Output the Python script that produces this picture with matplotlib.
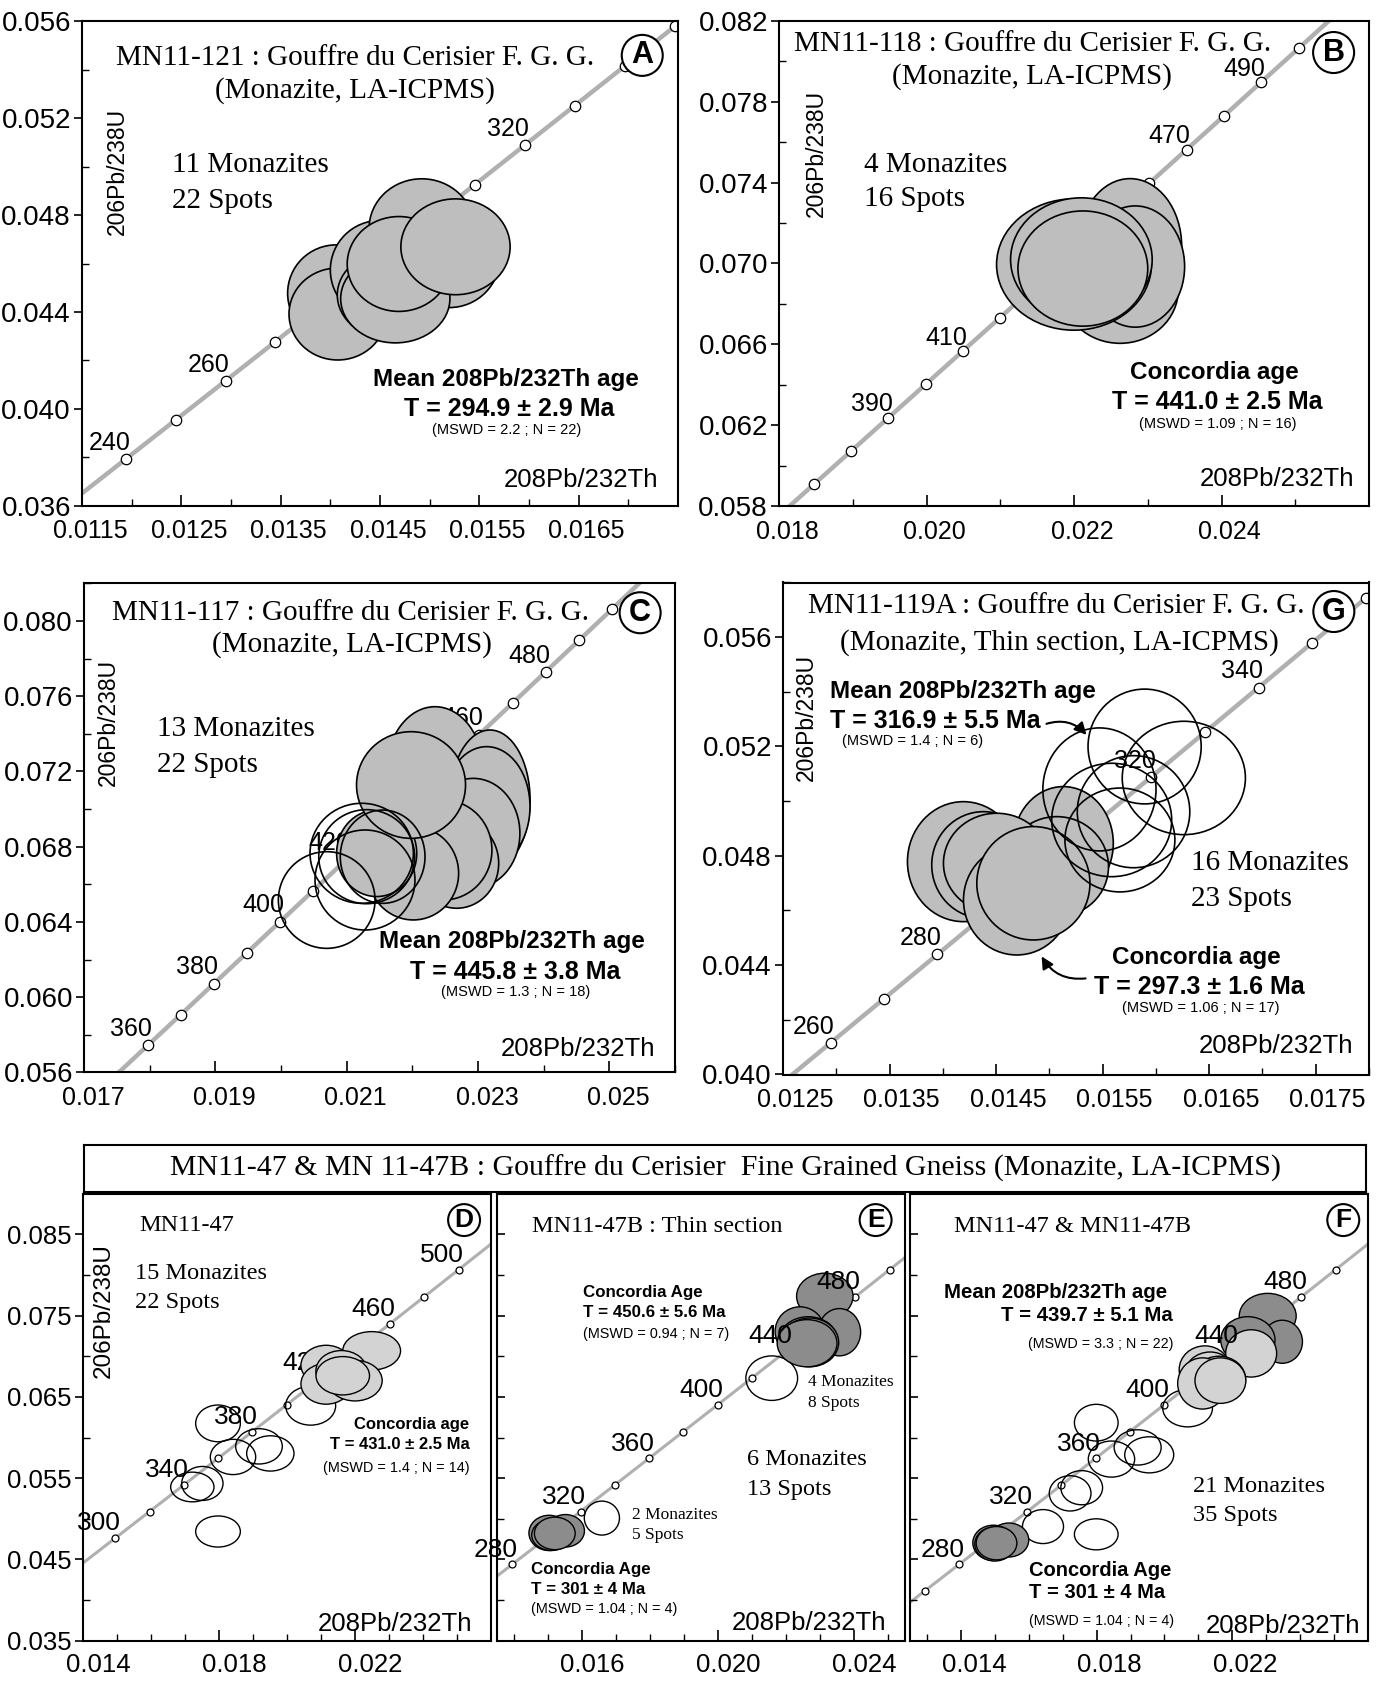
import numpy as np
import matplotlib
matplotlib.use('Agg')
import matplotlib.pyplot as plt
from matplotlib.patches import Ellipse
from matplotlib.transforms import ScaledTranslation

SERIF = ['Liberation Serif', 'DejaVu Serif']
SANS = ['Liberation Sans', 'DejaVu Sans']
plt.rcParams['font.family'] = SANS

# decay constants (1/yr) used for the 208Pb/232Th - 206Pb/238U concordia
L232 = 4.9475e-11
L238 = 1.55125e-10

# ---------------- Panel A : MN11-121 ----------------
A_xlim = (0.0115, 0.0175)
A_ylim = (0.036, 0.056)
A_xticks = [0.0115, 0.0125, 0.0135, 0.0145, 0.0155, 0.0165]
A_xticklabels = ['0.0115', '0.0125', '0.0135', '0.0145', '0.0155', '0.0165']
A_xminor = [0.0120, 0.0130, 0.0140, 0.0150, 0.0160, 0.0170]
A_yticks = [0.036, 0.040, 0.044, 0.048, 0.052, 0.056]
A_yticklabels = ['0.036', '0.040', '0.044', '0.048', '0.052', '0.056']
A_yminor = [0.038, 0.042, 0.046, 0.050, 0.054]
A_ages = [240, 250, 260, 270, 280, 290, 300, 310, 320, 330, 340, 350]
A_age_labels = [240, 260, 320]
A_cx = [0.01406, 0.014074, 0.01450, 0.01492, 0.01520, 0.01463, 0.014654, 0.01469, 0.01526]
A_cy = [0.04477, 0.043913, 0.04573, 0.04745, 0.04628, 0.04470, 0.04455, 0.04598, 0.04669]
A_sx = [0.00049, 0.000490, 0.00050, 0.00053, 0.00051, 0.00056, 0.00055, 0.00052, 0.00055]
A_sy = [0.00200, 0.00190, 0.00205, 0.00205, 0.00210, 0.00185, 0.00183, 0.00196, 0.00198]
A_kind = ['g'] * 9

# ---------------- Panel B : MN11-118 ----------------
B_xlim = (0.018, 0.026)
B_ylim = (0.058, 0.082)
B_xticks = [0.018, 0.020, 0.022, 0.024]
B_xticklabels = ['0.018', '0.020', '0.022', '0.024']
B_xminor = [0.019, 0.021, 0.023, 0.025]
B_yticks = [0.058, 0.062, 0.066, 0.070, 0.074, 0.078, 0.082]
B_yticklabels = ['0.058', '0.062', '0.066', '0.070', '0.074', '0.078', '0.082']
B_yminor = [0.060, 0.064, 0.068, 0.072, 0.076, 0.080]
B_ages = [370, 380, 390, 400, 410, 420, 430, 440, 450, 460, 470, 480, 490, 500]
B_age_labels = [390, 410, 470, 490]
B_cx = [0.02276, 0.022624, 0.02283, 0.02200, 0.02210, 0.022120]
B_cy = [0.07085, 0.068700, 0.06985, 0.06995, 0.07020, 0.069750]
B_sx = [0.000700, 0.000790, 0.00067, 0.001050, 0.000960, 0.000880]
B_sy = [0.00335, 0.002650, 0.00300, 0.00325, 0.003050, 0.002850]
B_kind = ['g'] * 6

# ---------------- Panel C : MN11-117 ----------------
C_xlim = (0.017, 0.026)
C_ylim = (0.056, 0.082)
C_xticks = [0.017, 0.019, 0.021, 0.023, 0.025]
C_xticklabels = ['0.017', '0.019', '0.021', '0.023', '0.025']
C_xminor = [0.018, 0.020, 0.022, 0.024, 0.026]
C_yticks = [0.056, 0.060, 0.064, 0.068, 0.072, 0.076, 0.080]
C_yticklabels = ['0.056', '0.060', '0.064', '0.068', '0.072', '0.076', '0.080']
C_yminor = [0.058, 0.062, 0.066, 0.070, 0.074, 0.078, 0.082]
C_ages = [360, 370, 380, 390, 400, 410, 420, 430, 440, 450, 460, 470, 480, 490, 500]
C_age_labels = [360, 380, 400, 420, 460, 480]
C_cx = [0.022345, 0.023183, 0.023132, 0.022928, 0.022675, 0.022472, 0.022015, 0.021457, 0.021980,
        0.020696, 0.021279, 0.021229, 0.021305, 0.021548]
C_cy = [0.071988, 0.070483, 0.070130, 0.068713, 0.067118, 0.067825, 0.066586, 0.067650, 0.071280,
        0.065166, 0.066230, 0.067650, 0.067470, 0.067469]
C_sx = [0.000740, 0.000610, 0.000660, 0.000710, 0.000640, 0.000740, 0.000690, 0.000610, 0.000830,
        0.000736, 0.000761, 0.000787, 0.000730, 0.000645]
C_sy = [0.003456, 0.003722, 0.003190, 0.002920, 0.002390, 0.002659, 0.002480, 0.002300, 0.002835,
        0.002570, 0.002659, 0.002659, 0.002500, 0.002480]
C_kind = ['g'] * 9 + ['o'] * 5

# ---------------- Panel G : MN11-119A ----------------
G_xlim = (0.0125, 0.0180)
G_ylim = (0.040, 0.058)
G_xticks = [0.0125, 0.0135, 0.0145, 0.0155, 0.0165, 0.0175]
G_xticklabels = ['0.0125', '0.0135', '0.0145', '0.0155', '0.0165', '0.0175']
G_xminor = [0.0130, 0.0140, 0.0150, 0.0160, 0.0170, 0.0180]
G_yticks = [0.040, 0.044, 0.048, 0.052, 0.056]
G_yticklabels = ['0.040', '0.044', '0.048', '0.052', '0.056']
G_yminor = [0.042, 0.046, 0.050, 0.054, 0.058]
G_ages = [260, 270, 280, 290, 300, 310, 320, 330, 340, 350, 360]
G_age_labels = [260, 280, 320, 340]
G_cx = [0.015131, 0.015070, 0.014193, 0.014381, 0.014506, 0.014694, 0.014850,
        0.015470, 0.015894, 0.016262, 0.015585, 0.015790, 0.015662]
G_cy = [0.048459, 0.047604, 0.047787, 0.047666, 0.047728, 0.046385, 0.046996,
        0.050430, 0.052000, 0.050849, 0.049312, 0.049615, 0.048580]
G_sx = [0.000469, 0.000485, 0.000525, 0.000485, 0.000500, 0.000500, 0.000531,
        0.000531, 0.000531, 0.000578, 0.000563, 0.000528, 0.000516]
G_sy = [0.002074, 0.001830, 0.002195, 0.001950, 0.001830, 0.002012, 0.002074,
        0.002250, 0.002100, 0.002074, 0.002074, 0.002050, 0.001900]
G_kind = ['g'] * 7 + ['o'] * 6

# ---------------- Panels D, E, F : MN11-47 / MN11-47B ----------------
DEF_ylim = (0.035, 0.090)
DEF_yticks = [0.035, 0.045, 0.055, 0.065, 0.075, 0.085]
DEF_yticklabels = ['0.035', '0.045', '0.055', '0.065', '0.075', '0.085']
DEF_yminor = [0.040, 0.050, 0.060, 0.070, 0.080]

D_xlim = (0.014, 0.026)
D_xticks = [0.014, 0.018, 0.022]
D_xticklabels = ['0.014', '0.018', '0.022']
D_xminor = [0.015, 0.016, 0.017, 0.019, 0.020, 0.021, 0.023, 0.024, 0.025]
D_ages = [300, 320, 340, 360, 380, 400, 420, 440, 460, 480, 500]
D_age_labels = [300, 340, 380, 420, 460, 500]
D_cx = [0.017971, 0.017216, 0.017510, 0.017971, 0.018412, 0.019176, 0.019510, 0.020696,
        0.022490, 0.021150, 0.021150, 0.021600, 0.022000, 0.021640]
D_cy = [0.048435, 0.053913, 0.054348, 0.061739, 0.057609, 0.058913, 0.058043, 0.063913,
        0.070670, 0.068900, 0.066600, 0.068200, 0.067000, 0.067600]
D_sx = [0.000657, 0.000637, 0.000608, 0.000657, 0.000667, 0.000686, 0.000696, 0.000735,
        0.000850, 0.000740, 0.000740, 0.000750, 0.000800, 0.000787]
D_sy = [0.001913, 0.001826, 0.002090, 0.002260, 0.002170, 0.002170, 0.002170, 0.002390,
        0.002360, 0.002450, 0.002500, 0.002500, 0.002500, 0.002360]
D_kind = ['o'] * 8 + ['l'] * 6

E_xlim = (0.0135, 0.0255)
E_xticks = [0.016, 0.020, 0.024]
E_xticklabels = ['0.016', '0.020', '0.024']
E_xminor = [0.014, 0.015, 0.017, 0.018, 0.019, 0.021, 0.022, 0.023, 0.025]
E_ages = [280, 300, 320, 340, 360, 380, 400, 420, 440, 460, 480, 500]
E_age_labels = [280, 320, 360, 400, 440, 480]
E_cx = [0.016585, 0.021580, 0.015512, 0.015034, 0.015100, 0.015200,
        0.023141, 0.023571, 0.022410, 0.022654, 0.022700, 0.022620]
E_cy = [0.050087, 0.067304, 0.048522, 0.048261, 0.048000, 0.048200,
        0.077391, 0.072957, 0.073043, 0.071826, 0.071700, 0.071600]
E_sx = [0.000517, 0.000761, 0.000560, 0.000595, 0.000580, 0.000600,
        0.000830, 0.000624, 0.000730, 0.000878, 0.000850, 0.000880]
E_sy = [0.002090, 0.002740, 0.002000, 0.002170, 0.001900, 0.002000,
        0.002830, 0.002910, 0.003040, 0.003040, 0.003000, 0.002900]
E_kind = ['o'] * 2 + ['d'] * 10

F_xlim = (0.0125, 0.026)
F_xticks = [0.014, 0.018, 0.022]
F_xticklabels = ['0.014', '0.018', '0.022']
F_xminor = [0.013, 0.015, 0.016, 0.017, 0.019, 0.020, 0.021, 0.023, 0.024, 0.025]
F_ages = [260, 280, 300, 320, 340, 360, 380, 400, 420, 440, 460, 480, 500]
F_age_labels = [280, 320, 360, 400, 440, 480]
F_cx = [0.016420, 0.017990, 0.017220, 0.017561, 0.017990, 0.018439, 0.019210, 0.019551, 0.020683,
        0.015415, 0.014956, 0.015000, 0.015050,
        0.023044, 0.023473, 0.022459,
        0.022556, 0.021190, 0.021346, 0.021610, 0.021122, 0.021650]
F_cy = [0.049043, 0.048087, 0.053130, 0.053826, 0.061826, 0.057348, 0.058783, 0.057870, 0.063609,
        0.047391, 0.047043, 0.046900, 0.047000,
        0.074957, 0.071783, 0.072000,
        0.070348, 0.068348, 0.067652, 0.067174, 0.066652, 0.067000]
F_sx = [0.000605, 0.000644, 0.000615, 0.000615, 0.000644, 0.000683, 0.000693, 0.000722, 0.000732,
        0.000585, 0.000605, 0.000590, 0.000600,
        0.000839, 0.000595, 0.000800,
        0.000751, 0.000756, 0.000756, 0.000780, 0.000732, 0.000750]
F_sy = [0.002090, 0.001910, 0.002170, 0.002100, 0.002260, 0.002220, 0.002170, 0.002220, 0.002300,
        0.002090, 0.002170, 0.002100, 0.002050,
        0.002780, 0.002650, 0.002870,
        0.002910, 0.002930, 0.002870, 0.002830, 0.003150, 0.002800]
F_kind = ['o'] * 9 + ['d'] * 4 + ['d'] * 3 + ['l'] * 6

FILL = {'g': '#bebebe', 'l': '#d3d3d3', 'd': '#8c8c8c', 'o': 'none'}

fig = plt.figure(figsize=(13.81, 16.86), dpi=100)
W, H = 1381.0, 1686.0


def rect(l, r, t, b):
    return [l / W, (H - b) / H, (r - l) / W, (b - t) / H]


def make_ax(rc, xlim, ylim, xt, xtl, xm, yt, ytl, ym, ylab=True, ysize=20, xsize=18,
            xshift=0, xpad=10):
    ax = fig.add_axes(rc)
    ax.set_xlim(xlim)
    ax.set_ylim(ylim)
    ax.set_xticks(xt)
    ax.set_xticklabels(xtl)
    ax.set_xticks(xm, minor=True)
    ax.set_yticks(yt)
    ax.set_yticklabels(ytl if ylab else [])
    ax.set_yticks(ym, minor=True)
    ax.tick_params(axis='x', which='both', direction='in')
    ax.tick_params(axis='x', which='major', length=8, width=1.2, pad=xpad, labelsize=xsize)
    ax.tick_params(axis='x', which='minor', length=5, width=1.0)
    ax.tick_params(axis='y', which='major', direction='out' if ylab else 'in', length=6,
                   width=1.2, pad=2, labelsize=ysize)
    ax.tick_params(axis='y', which='minor', direction='in', length=5, width=1.0)
    for s in ax.spines.values():
        s.set_linewidth(1.5)
    if xshift:
        off = ScaledTranslation(xshift / 100.0, 0, fig.dpi_scale_trans)
        for tk in ax.xaxis.get_major_ticks():
            tk.label1.set_transform(tk.label1.get_transform() + off)
    return ax


def concordia(ax, ages, labels, lw, ms, fs, lab_z, off=(3, 3)):
    t = np.linspace(0, 800e6, 3000)
    ax.plot(np.expm1(L232 * t), np.expm1(L238 * t), color='#b0b0b0', lw=lw, zorder=1,
            solid_capstyle='butt')
    a = np.array(ages) * 1e6
    ax.plot(np.expm1(L232 * a), np.expm1(L238 * a), 'o', mfc='white', mec='black', ms=ms,
            mew=0.9, zorder=1.5)
    for lab in labels:
        ax.annotate(str(lab), (np.expm1(L232 * lab * 1e6), np.expm1(L238 * lab * 1e6)),
                    xytext=off, textcoords='offset points', ha='right', va='bottom',
                    fontsize=fs, family=SANS, zorder=lab_z)


def ellipses(ax, cx, cy, sx, sy, kinds, lw=1.2):
    for i, (x, y, a, b, k) in enumerate(zip(cx, cy, sx, sy, kinds)):
        ax.add_patch(Ellipse((x, y), 2 * a, 2 * b, facecolor=FILL[k], edgecolor='black',
                             lw=lw, zorder=3 + 0.01 * i))


def txt(ax, x, y, s, fs, fam=SANS, ha='center', weight='normal', rot=0, z=10):
    ax.text(x, y, s, transform=ax.transAxes, fontsize=fs, family=fam, ha=ha, va='center',
            fontweight=weight, rotation=rot, zorder=z)


def letter(ax, x, y, s, fs=22, pad=0.18):
    ax.text(x, y, s, transform=ax.transAxes, fontsize=fs, family=SANS, fontweight='bold',
            ha='center', va='center', zorder=12,
            bbox=dict(boxstyle='circle,pad=%g' % pad, fc='white', ec='black', lw=1.5))


# ---------- A ----------
axA = make_ax(rect(82, 678, 21.5, 505.5), A_xlim, A_ylim, A_xticks, A_xticklabels, A_xminor,
              A_yticks, A_yticklabels, A_yminor, xshift=8)
concordia(axA, A_ages, A_age_labels, 3.2, 7.5, 18, 2)
ellipses(axA, A_cx, A_cy, A_sx, A_sy, A_kind)
txt(axA, 0.458, 0.925, 'MN11-121 : Gouffre du Cerisier F. G. G.', 21, SERIF)
txt(axA, 0.458, 0.857, '(Monazite, LA-ICPMS)', 21, SERIF)
letter(axA, 0.94, 0.93, 'A')
txt(axA, 0.151, 0.704, '11 Monazites', 21, SERIF, ha='left')
txt(axA, 0.151, 0.630, '22 Spots', 21, SERIF, ha='left')
txt(axA, 0.060, 0.690, '206Pb/238U', 16.5, rot=90)
txt(axA, 0.712, 0.261, 'Mean 208Pb/232Th age', 17.5, weight='bold')
txt(axA, 0.716, 0.199, 'T = 294.9 ± 2.9 Ma', 18, weight='bold')
txt(axA, 0.712, 0.157, '(MSWD = 2.2 ; N = 22)', 10.5)
txt(axA, 0.837, 0.052, '208Pb/232Th', 18.5)

# ---------- B ----------
axB = make_ax(rect(779, 1369, 21, 506), B_xlim, B_ylim, B_xticks, B_xticklabels, B_xminor,
              B_yticks, B_yticklabels, B_yminor, xshift=8)
concordia(axB, B_ages, B_age_labels, 3.2, 7.5, 18, 2, off=(3, 1))
ellipses(axB, B_cx, B_cy, B_sx, B_sy, B_kind)
txt(axB, 0.429, 0.952, 'MN11-118 : Gouffre du Cerisier F. G. G.', 21, SERIF)
txt(axB, 0.429, 0.886, '(Monazite, LA-ICPMS)', 21, SERIF)
letter(axB, 0.94, 0.935, 'B')
txt(axB, 0.144, 0.703, '4 Monazites', 21, SERIF, ha='left')
txt(axB, 0.144, 0.633, '16 Spots', 21, SERIF, ha='left')
txt(axB, 0.064, 0.726, '206Pb/238U', 16.5, rot=90)
txt(axB, 0.7375, 0.276, 'Concordia age', 17.5, weight='bold')
txt(axB, 0.743, 0.2145, 'T = 441.0 ± 2.5 Ma', 18, weight='bold')
txt(axB, 0.743, 0.170, '(MSWD = 1.09 ; N = 16)', 10.5)
txt(axB, 0.844, 0.055, '208Pb/232Th', 18.5)

# ---------- C ----------
axC = make_ax(rect(84, 675, 583.4, 1072.4), C_xlim, C_ylim, C_xticks, C_xticklabels, C_xminor,
              C_yticks, C_yticklabels, C_yminor, xshift=9)
concordia(axC, C_ages, C_age_labels, 3.2, 7.5, 18, 2)
ellipses(axC, C_cx, C_cy, C_sx, C_sy, C_kind)
txt(axC, 0.451, 0.940, 'MN11-117 : Gouffre du Cerisier F. G. G.', 21, SERIF)
txt(axC, 0.453, 0.874, '(Monazite, LA-ICPMS)', 21, SERIF)
letter(axC, 0.941, 0.94, 'C')
txt(axC, 0.123, 0.702, '13 Monazites', 21, SERIF, ha='left')
txt(axC, 0.123, 0.628, '22 Spots', 21, SERIF, ha='left')
txt(axC, 0.042, 0.716, '206Pb/238U', 16.5, rot=90)
txt(axC, 0.724, 0.268, 'Mean 208Pb/232Th age', 17.5, weight='bold')
txt(axC, 0.730, 0.206, 'T = 445.8 ± 3.8 Ma', 18, weight='bold')
txt(axC, 0.730, 0.164, '(MSWD = 1.3 ; N = 18)', 10.5)
txt(axC, 0.836, 0.047, '208Pb/232Th', 18.5)

# ---------- G ----------
axG = make_ax(rect(783, 1369, 582.5, 1074.5), G_xlim, G_ylim, G_xticks, G_xticklabels, G_xminor,
              G_yticks, G_yticklabels, G_yminor, xshift=12)
concordia(axG, G_ages, G_age_labels, 3.2, 7.5, 18, 2)
ellipses(axG, G_cx, G_cy, G_sx, G_sy, G_kind)
txt(axG, 0.4665, 0.952, 'MN11-119A : Gouffre du Cerisier F. G. G.', 21, SERIF)
txt(axG, 0.471, 0.878, '(Monazite, Thin section, LA-ICPMS)', 21, SERIF)
letter(axG, 0.94, 0.941, 'G')
txt(axG, 0.081, 0.778, 'Mean 208Pb/232Th age', 17.5, ha='left', weight='bold')
txt(axG, 0.081, 0.718, 'T = 316.9 ± 5.5 Ma', 18, ha='left', weight='bold')
txt(axG, 0.100, 0.677, '(MSWD = 1.4 ; N = 6)', 10.5, ha='left')
txt(axG, 0.697, 0.430, '16 Monazites', 21, SERIF, ha='left')
txt(axG, 0.697, 0.357, '23 Spots', 21, SERIF, ha='left')
txt(axG, 0.706, 0.238, 'Concordia age', 17.5, weight='bold')
txt(axG, 0.710, 0.178, 'T = 297.3 ± 1.6 Ma', 18, weight='bold')
txt(axG, 0.713, 0.135, '(MSWD = 1.06 ; N = 17)', 10.5)
txt(axG, 0.841, 0.058, '208Pb/232Th', 18.5)
txt(axG, 0.040, 0.726, '206Pb/238U', 16.5, rot=90)
axG.annotate('', xy=(0.521, 0.686), xytext=(0.445, 0.711), xycoords='axes fraction',
             textcoords='axes fraction', zorder=12,
             arrowprops=dict(arrowstyle='-|>', connectionstyle='arc3,rad=-0.35', lw=1.5,
                             color='black', mutation_scale=18))
axG.annotate('', xy=(0.439, 0.245), xytext=(0.521, 0.196), xycoords='axes fraction',
             textcoords='axes fraction', zorder=12,
             arrowprops=dict(arrowstyle='-|>', connectionstyle='arc3,rad=-0.35', lw=1.5,
                             color='black', mutation_scale=18))

# ---------- title box for D/E/F ----------
tb = fig.add_axes(rect(84, 1366, 1145, 1192))
tb.set_xticks([])
tb.set_yticks([])
for s in tb.spines.values():
    s.set_linewidth(1.5)
tb.text(0.5, 0.5, 'MN11-47 & MN 11-47B : Gouffre du Cerisier  Fine Grained Gneiss (Monazite, LA-ICPMS)',
        ha='center', va='center', fontsize=21.5, family=SERIF, transform=tb.transAxes)

# ---------- D ----------
axD = make_ax(rect(83, 491, 1193.7, 1640.7), D_xlim, DEF_ylim, D_xticks, D_xticklabels, D_xminor,
              DEF_yticks, DEF_yticklabels, DEF_yminor, ysize=18.5, xsize=18.5, xshift=15, xpad=9)
concordia(axD, D_ages, D_age_labels, 2.2, 5, 19, 2, off=(4, 2))
ellipses(axD, D_cx, D_cy, D_sx, D_sy, D_kind, lw=1.0)
txt(axD, 0.137, 0.929, 'MN11-47', 17.5, SERIF, ha='left')
letter(axD, 0.934, 0.941, 'D', fs=19, pad=0.15)
txt(axD, 0.127, 0.822, '15 Monazites', 17.5, SERIF, ha='left')
txt(axD, 0.127, 0.757, '22 Spots', 17.5, SERIF, ha='left')
txt(axD, 0.050, 0.739, '206Pb/238U', 17.5, rot=90)
txt(axD, 0.946, 0.484, 'Concordia age', 12, ha='right', weight='bold')
txt(axD, 0.948, 0.439, 'T = 431.0 ± 2.5 Ma', 12, ha='right', weight='bold')
txt(axD, 0.948, 0.387, '(MSWD = 1.4 ; N = 14)', 10.4, ha='right')
txt(axD, 0.954, 0.037, '208Pb/232Th', 18.5, ha='right')

# ---------- E ----------
axE = make_ax(rect(497, 905, 1193.7, 1640.7), E_xlim, DEF_ylim, E_xticks, E_xticklabels, E_xminor,
              DEF_yticks, DEF_yticklabels, DEF_yminor, ylab=False, xsize=18.5, xshift=10, xpad=9)
concordia(axE, E_ages, E_age_labels, 2.2, 5, 19, 8, off=(4, 2))
ellipses(axE, E_cx, E_cy, E_sx, E_sy, E_kind, lw=1.0)
txt(axE, 0.086, 0.927, 'MN11-47B : Thin section', 17.5, SERIF, ha='left')
letter(axE, 0.928, 0.941, 'E', fs=19, pad=0.15)
txt(axE, 0.212, 0.780, 'Concordia Age', 12.2, ha='left', weight='bold')
txt(axE, 0.212, 0.735, 'T = 450.6 ± 5.6 Ma', 12.2, ha='left', weight='bold')
txt(axE, 0.212, 0.686, '(MSWD = 0.94 ; N = 7)', 10.4, ha='left')
txt(axE, 0.763, 0.579, '4 Monazites', 12.5, SERIF, ha='left')
txt(axE, 0.763, 0.532, '8 Spots', 12.5, SERIF, ha='left')
txt(axE, 0.612, 0.405, '6 Monazites', 17.5, SERIF, ha='left')
txt(axE, 0.612, 0.339, '13 Spots', 17.5, SERIF, ha='left')
txt(axE, 0.330, 0.282, '2 Monazites', 12.5, SERIF, ha='left')
txt(axE, 0.330, 0.237, '5 Spots', 12.5, SERIF, ha='left')
txt(axE, 0.084, 0.160, 'Concordia Age', 12.2, ha='left', weight='bold')
txt(axE, 0.084, 0.115, 'T = 301 ± 4 Ma', 12.2, ha='left', weight='bold')
txt(axE, 0.084, 0.071, '(MSWD = 1.04 ; N = 4)', 10.4, ha='left')
txt(axE, 0.954, 0.040, '208Pb/232Th', 18.5, ha='right')

# ---------- F ----------
axF = make_ax(rect(910, 1368, 1193.7, 1640.7), F_xlim, DEF_ylim, F_xticks, F_xticklabels, F_xminor,
              DEF_yticks, DEF_yticklabels, DEF_yminor, ylab=False, xsize=18.5, xshift=13, xpad=9)
concordia(axF, F_ages, F_age_labels, 2.2, 5, 19, 8, off=(4, 2))
ellipses(axF, F_cx, F_cy, F_sx, F_sy, F_kind, lw=1.0)
txt(axF, 0.097, 0.927, 'MN11-47 & MN11-47B', 17.5, SERIF, ha='left')
letter(axF, 0.946, 0.941, 'F', fs=19, pad=0.15)
txt(axF, 0.561, 0.779, 'Mean 208Pb/232Th age', 14.7, ha='right', weight='bold')
txt(axF, 0.574, 0.727, 'T = 439.7 ± 5.1 Ma', 14.7, ha='right', weight='bold')
txt(axF, 0.576, 0.664, '(MSWD = 3.3 ; N = 22)', 10.3, ha='right')
txt(axF, 0.617, 0.345, '21 Monazites', 17.5, SERIF, ha='left')
txt(axF, 0.617, 0.279, '35 Spots', 17.5, SERIF, ha='left')
txt(axF, 0.259, 0.158, 'Concordia Age', 14.5, ha='left', weight='bold')
txt(axF, 0.259, 0.107, 'T = 301 ± 4 Ma', 14.5, ha='left', weight='bold')
txt(axF, 0.259, 0.043, '(MSWD = 1.04 ; N = 4)', 10.3, ha='left')
txt(axF, 0.982, 0.033, '208Pb/232Th', 18.5, ha='right')

fig.savefig('out.png', dpi=100)
